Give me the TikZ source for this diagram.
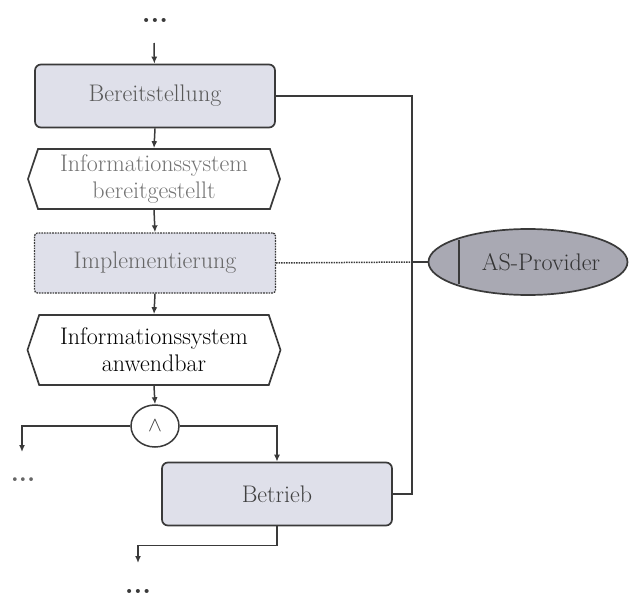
\documentclass[tikz,border=0pt]{standalone}
\usetikzlibrary{shapes.geometric,shapes.symbols,arrows.meta}
\definecolor{boxfill}{HTML}{DFE0EA}
\definecolor{provfill}{HTML}{A9A9B3}
\definecolor{rim}{HTML}{3A3A3A}
\tikzset{
  fkt/.style={draw=rim, line width=1.7pt, fill=boxfill, rounded corners=6pt,
    minimum height=63pt, inner sep=0pt, font=\fontsize{24}{28}\selectfont},
  ereig/.style={draw=rim, line width=1.7pt, fill=white, shape=signal,
    signal to=west and east, signal pointer angle=143, inner sep=0pt,
    minimum height=60pt, align=center, font=\fontsize{24}{27}\selectfont},
  dots/.style={inner sep=0pt, font=\fontsize{28}{28}\selectfont\bfseries}
}
\begin{document}
\begin{tikzpicture}[x=1pt, y=-1pt, >={Latex[length=7pt,width=6pt]}, line width=1.5pt, color=rim]
\useasboundingbox (0,0) rectangle (630,597);
% Prozesskette
\node[dots] (top) at (155,20) {...};
\coordinate (in) at (154,43);
\node[fkt, minimum width=240pt, text=black!65] (bereit) at (155,96) {Bereitstellung};
\node[ereig, minimum width=252pt, text=black!55] (info1) at (154,179) {Informationssystem\\bereitgestellt};
\node[fkt, minimum width=241pt, minimum height=60pt, densely dotted, line width=1.3pt,
  rounded corners=3pt, text=black!60] (impl) at (155,263) {Implementierung};
\node[ereig, minimum width=253pt, minimum height=70pt, text=black] (info2) at (154,350) {Informationssystem\\anwendbar};
\node[draw=rim, ellipse, fill=white, minimum width=48pt, minimum height=42pt, inner sep=0pt,
  font=\fontsize{20}{20}\selectfont] (und) at (155,426) {$\wedge$};
\node[fkt, minimum width=230pt, text=black!75] (betrieb) at (277,494) {Betrieb};
\node[dots, font=\fontsize{26}{26}\selectfont\bfseries, text=black!60] (links) at (23,480) {...};
\node[dots] (unten) at (138,591) {...};
\coordinate (l) at (22,452);
\coordinate (u) at (138,563);

\draw[->] (in) -- (bereit);
\foreach \a/\b in {bereit/info1, info1/impl, impl/info2, info2/und}
{
    \draw[->] (\a.south) -- (\b.north);
}
\draw[->] (und.west) -| (l);
\draw[->] (und.east) -| (betrieb.north);
\draw[->] (betrieb.south) -- ++(0,19) -| (u);

% Organisationseinheit
\node[draw=rim, ellipse, fill=provfill, line width=1.7pt, minimum width=199pt,
  minimum height=66pt] (prov) at (528,262) {};
\draw[line width=1.7pt] (459,240) -- (459,284);
\node[font=\fontsize{24}{28}\selectfont, text=black!80] (provname) at (541,262) {AS-Provider};
\coordinate (bus) at (412,262);
\draw (bereit.east) -| (bus) |- (betrieb.east);
\draw[densely dotted] (impl.east) -- (bus);
\draw (bus) -- (prov.west);
\end{tikzpicture}
\end{document}
